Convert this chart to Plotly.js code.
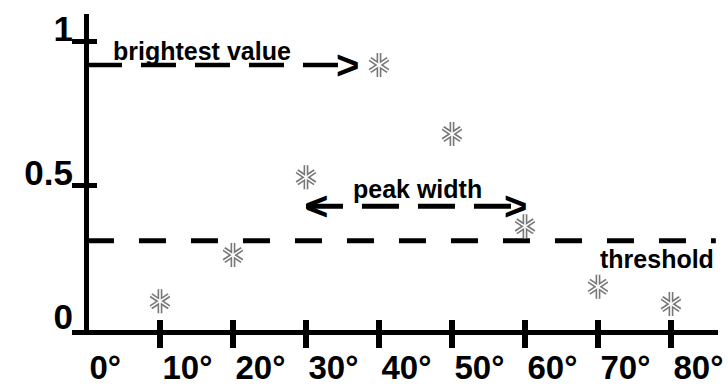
<!DOCTYPE html>
<html>
<head>
<meta charset="utf-8">
<script src="https://cdn.plot.ly/plotly-3.0.1.min.js"></script>
<style>html,body{margin:0;padding:0;background:#fff;}#chart{width:728px;height:387px;}</style>
</head>
<body>
<div id="chart"></div>
<script>
// ---- data ----
const angles = [10, 20, 30, 40, 50, 60, 70, 80];
const intensity = [0.10, 0.26, 0.53, 0.92, 0.68, 0.36, 0.15, 0.09];
const xTickVals = [0, 10, 20, 30, 40, 50, 60, 70, 80];
const xTickText = ['0°', '10°', '20°', '30°', '40°', '50°', '60°', '70°', '80°'];
const yTickVals = [0, 0.5, 1];
const yTickText = ['0', '0.5', '1'];
const thresholdLevel = 0.31;
const brightestLevel = 0.92;
const peakLevel = 0.43;
const peakEdges = [30, 60];
const labelTexts = ['brightest value', 'peak width', 'threshold'];

// ---- layout constants ----
const xRange = [-2.05, 86.44];
const yRange = [0, 1.097];
const FONT = 'Liberation Sans, Arial, sans-serif';

const traces = [];
// threshold dashed line
traces.push({x: [0, xRange[1] - 0.3], y: [thresholdLevel, thresholdLevel], mode: 'lines',
  line: {color: '#000', width: 5, dash: '27px,25px'}, hoverinfo: 'skip', xaxis: 'x'});
// brightest value dashed arrow shaft
traces.push({x: [0, 37.0], y: [brightestLevel, brightestLevel], mode: 'lines',
  line: {color: '#000', width: 4.5, dash: '35px,19px'}, hoverinfo: 'skip', xaxis: 'x'});
// peak width dashed arrow shaft
traces.push({x: [peakEdges[0], peakEdges[1]], y: [peakLevel, peakLevel], mode: 'lines',
  line: {color: '#000', width: 5, dash: '37px,19px'}, hoverinfo: 'skip', xaxis: 'x'});
// stars: outlined six-armed asterisk (two Y symbols, gray wide + white thin)
['y-up-open', 'y-down-open'].forEach(s => traces.push({x: angles, y: intensity, mode: 'markers', xaxis: 'x2',
  marker: {symbol: s, size: 15, color: '#777777', line: {color: '#777777', width: 4.8}}, hoverinfo: 'skip'}));
['y-up-open', 'y-down-open'].forEach(s => traces.push({x: angles, y: intensity, mode: 'markers', xaxis: 'x3',
  marker: {symbol: s, size: 15, color: '#ffffff', line: {color: '#ffffff', width: 1.6}}, hoverinfo: 'skip'}));

const txtFont = {family: FONT, size: 25, color: '#000', weight: 'bold'};
const chevFont = {family: FONT, size: 40, color: '#000', weight: 'bold'};
const annotations = [
  {x: 15.7, y: 0.969, text: labelTexts[0], font: txtFont},
  {x: 45.3, y: 0.49, text: labelTexts[1], font: txtFont},
  {x: 78.1, y: 0.245, text: labelTexts[2], font: txtFont},
  {x: 37.4, y: brightestLevel, text: '>', font: chevFont, xanchor: 'right', yshift: 0},
  {x: peakEdges[0] - 0.3, y: peakLevel, text: '<', font: chevFont, xanchor: 'left', yshift: 0},
  {x: peakEdges[1] + 0.4, y: peakLevel, text: '>', font: chevFont, xanchor: 'right', yshift: 0}
].map(a => Object.assign({xref: 'x', yref: 'y', showarrow: false, yanchor: 'middle', borderpad: 0}, a));

const tickFont = {family: FONT, size: 33, color: '#000', weight: 'bold'};
const yTickFont = {family: FONT, size: 35, color: '#000', weight: 'bold'};
const layout = {
  width: 728, height: 387,
  margin: {l: 72, r: 10, t: 14, b: 57},
  paper_bgcolor: '#fff', plot_bgcolor: '#fff',
  showlegend: false,
  xaxis: {range: xRange, tickmode: 'array', tickvals: xTickVals, ticktext: xTickText, ticks: '',
    showline: true, linewidth: 5, linecolor: '#000', showgrid: false,
    zeroline: true, zerolinewidth: 5, zerolinecolor: '#000',
    tickfont: tickFont, ticklabelposition: 'outside right', ticklabelstandoff: 4},
  xaxis2: {range: xRange, overlaying: 'x', anchor: 'y', side: 'bottom', tickmode: 'array', tickvals: angles,
    ticks: 'outside', ticklen: 17, tickwidth: 6, tickcolor: '#000', showticklabels: false,
    showline: false, zeroline: false, showgrid: false},
  xaxis3: {range: xRange, overlaying: 'x', anchor: 'y', side: 'bottom', tickmode: 'array', tickvals: angles,
    ticks: 'inside', ticklen: 10, tickwidth: 6, tickcolor: '#000', showticklabels: false,
    showline: false, zeroline: false, showgrid: false},
  yaxis: {range: yRange, tickmode: 'array', tickvals: yTickVals, ticktext: yTickText,
    ticks: 'inside', ticklen: 25, tickwidth: 5, tickcolor: '#000', showline: false, zeroline: false,
    showgrid: false, tickfont: yTickFont, ticklabelshift: -13, ticklabelstandoff: -2},
  annotations: annotations
};

Plotly.newPlot('chart', traces, layout, {displayModeBar: false, staticPlot: true});
</script>
</body>
</html>
